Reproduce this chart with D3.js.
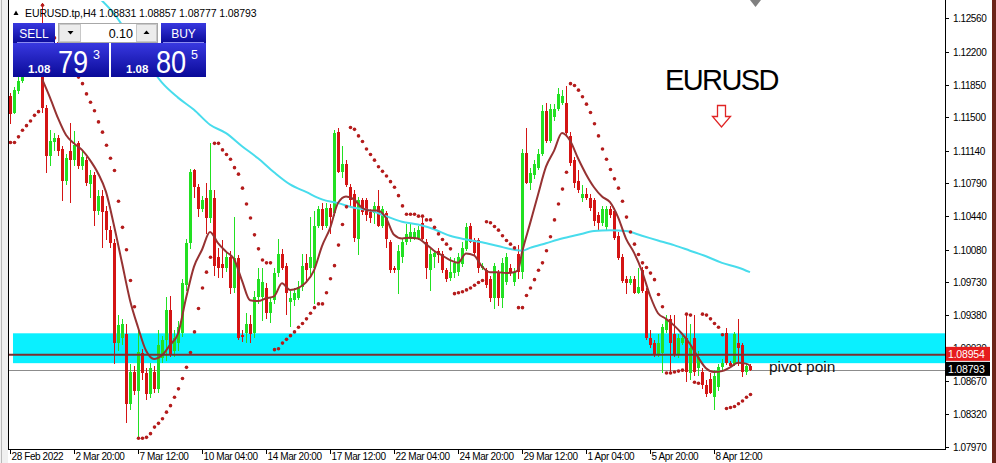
<!DOCTYPE html>
<html><head><meta charset="utf-8">
<script src="https://cdn.jsdelivr.net/npm/d3@7"></script>
<style>html,body{margin:0;padding:0;background:#fff;overflow:hidden}</style>
</head><body>
<svg id="chart" width="996" height="463"></svg>
<script>
// ---------------- DATA (EURUSD.tp, H4) ----------------
const symbol = "EURUSD.tp,H4";
const timeLabels = ["28 Feb 2022","2 Mar 20:00","7 Mar 12:00","10 Mar 04:00","14 Mar 20:00","17 Mar 12:00","22 Mar 04:00","24 Mar 20:00","29 Mar 12:00","1 Apr 04:00","5 Apr 20:00","8 Apr 12:00"];
const timeLabelBars = [0,16,32,48,64,80,96,112,128,144,160,176];
const priceTicks = [1.12560,1.12200,1.11850,1.11500,1.11140,1.10790,1.10440,1.10080,1.09730,1.09380,1.09030,1.08670,1.08320,1.07970];

const openP = [
1.1173,1.1155,1.1178,1.1189,1.1204,1.1219,1.1213,1.1230,1.1243,1.1160,
1.1109,1.1123,1.1128,1.1116,1.1082,1.1114,1.1104,1.1122,1.1098,1.1104,
1.1079,1.1088,1.1050,1.1066,1.1050,1.1029,1.1015,1.0908,1.0914,1.0918,
1.0843,1.0877,1.0857,1.0897,1.0876,1.0854,1.0877,1.0859,1.0892,1.0911,
1.0943,1.0900,1.0908,1.0919,1.0970,1.1015,1.1093,1.1075,1.1052,1.1063,
1.1042,1.1064,1.1000,1.0993,1.0988,1.1000,1.0967,1.0999,1.0917,1.0919,
1.0929,1.0919,1.0957,1.0957,1.0967,1.0940,1.0954,1.0983,1.1004,1.0991,
1.0952,1.0954,1.0956,1.0968,1.0994,1.0989,1.0989,1.1034,1.1052,1.1034,
1.1053,1.1047,1.1134,1.1091,1.1100,1.1075,1.1068,1.1020,1.1061,1.1061,
1.1048,1.1047,1.1055,1.1034,1.1047,1.1016,1.0988,1.0986,1.1000,1.1016,
1.1020,1.1020,1.1021,1.1037,1.1016,1.0986,1.1000,1.1007,1.1004,1.0986,
1.0978,1.0983,1.0984,1.0993,1.1009,1.1034,1.1018,1.1018,1.0988,1.0986,
1.0977,1.0956,1.0983,1.0956,1.0973,1.0989,1.0973,1.1004,1.0984,1.1112,
1.1080,1.1088,1.1096,1.1111,1.1157,1.1125,1.1150,1.1159,1.1165,1.1165,
1.1130,1.1104,1.1082,1.1064,1.1068,1.1064,1.1061,1.1045,1.1037,1.1032,
1.1052,1.1050,1.1023,1.1000,1.0977,1.0972,1.0977,1.0962,1.0986,1.0964,
1.0914,1.0908,1.0895,1.0897,1.0922,1.0934,1.0918,1.0895,1.0908,1.0914,
1.0876,1.0914,1.0881,1.0877,1.0863,1.0870,1.0850,1.0861,1.0882,1.0919,
1.0887,1.0886,1.0908,1.0906,1.0877,1.08831];
const highP = [
1.1176,1.1182,1.1193,1.1209,1.1224,1.1225,1.1234,1.1247,1.1272,1.1163,
1.1136,1.1133,1.1131,1.1119,1.1111,1.1144,1.1135,1.1125,1.1114,1.1107,
1.1093,1.1091,1.1072,1.1072,1.1055,1.1034,1.1020,1.0938,1.0934,1.0929,
1.0886,1.0883,1.0925,1.0902,1.0881,1.0887,1.0883,1.0922,1.0916,1.0957,
1.0959,1.0922,1.0932,1.0977,1.1020,1.1095,1.1095,1.1079,1.1066,1.1080,
1.1122,1.1072,1.1010,1.1018,1.1007,1.1007,1.1043,1.1002,1.0922,1.0940,
1.0938,1.0964,1.0989,1.0989,1.0972,1.0957,1.0988,1.1020,1.1009,1.0994,
1.0964,1.0967,1.0975,1.1004,1.1004,1.1043,1.1050,1.1055,1.1058,1.1058,
1.1057,1.1136,1.1138,1.1119,1.1104,1.1078,1.1072,1.1065,1.1064,1.1064,
1.1052,1.1059,1.1072,1.1055,1.1050,1.1018,1.0991,1.1013,1.1020,1.1036,
1.1036,1.1031,1.1034,1.1042,1.1020,1.1009,1.1007,1.1010,1.1007,1.0989,
1.1000,1.0999,1.1005,1.1016,1.1037,1.1037,1.1021,1.1021,1.0994,1.0989,
1.0980,1.0994,1.0986,1.0999,1.1005,1.0993,1.0988,1.1013,1.1116,1.1138,
1.1096,1.1104,1.1116,1.1163,1.1165,1.1164,1.1164,1.1181,1.1179,1.1184,
1.1134,1.1107,1.1093,1.1077,1.1074,1.1068,1.1064,1.1048,1.1055,1.1055,
1.1055,1.1053,1.1027,1.1003,1.0980,1.0980,1.0980,1.0988,1.0990,1.0967,
1.0922,1.0911,1.0918,1.0929,1.0938,1.0938,1.0938,1.0918,1.0916,1.0938,
1.0929,1.0938,1.0900,1.0881,1.0868,1.0876,1.0879,1.0886,1.0891,1.0924,
1.0889,1.0920,1.0934,1.0908,1.0887,1.08857];
const lowP = [
1.1143,1.1153,1.1175,1.1187,1.1200,1.1209,1.1210,1.1228,1.1155,1.1090,
1.1098,1.1114,1.1109,1.1060,1.1077,1.1058,1.1098,1.1095,1.1093,1.1076,
1.1064,1.1034,1.1045,1.1010,1.1018,1.1010,1.0886,1.0900,1.0906,1.0822,
1.0836,1.0852,1.0807,1.0868,1.0847,1.0849,1.0855,1.0855,1.0887,1.0889,
1.0893,1.0893,1.0900,1.0915,1.0964,1.1009,1.1063,1.1043,1.1048,1.1025,
1.1037,1.0980,1.0978,1.0978,1.0984,1.0961,1.0962,1.0911,1.0909,1.0908,
1.0908,1.0914,1.0950,1.0932,1.0934,1.0930,1.0950,1.0979,1.0986,1.0938,
1.0925,1.0948,1.0954,1.0964,1.0972,1.0978,1.0950,1.1031,1.1029,1.1031,
1.1025,1.1044,1.1090,1.1085,1.1075,1.1055,1.1016,1.1002,1.1045,1.1039,
1.1037,1.1036,1.1032,1.1031,1.1010,1.0983,1.0983,1.0961,1.0994,1.1013,
1.1016,1.1018,1.1018,1.1018,1.0977,1.0964,1.0989,1.0994,1.0983,1.0973,
1.0975,1.0978,1.0980,1.0990,1.1007,1.1015,1.1002,1.0983,1.0986,1.0967,
1.0952,1.0945,1.0948,1.0946,1.0970,1.0980,1.0969,1.0977,1.0977,1.1079,
1.1072,1.1084,1.1093,1.1109,1.1122,1.1122,1.1146,1.1157,1.1163,1.1130,
1.1098,1.1074,1.1069,1.1059,1.1061,1.1050,1.1034,1.1029,1.1034,1.1029,
1.1042,1.1018,1.0997,1.0972,1.0961,1.0970,1.0961,1.0961,1.0962,1.0911,
1.0903,1.0893,1.0893,1.0876,1.0919,1.0877,1.0893,1.0892,1.0906,1.0866,
1.0868,1.0873,1.0873,1.0859,1.0850,1.0854,1.0836,1.0857,1.0879,1.0885,
1.0881,1.0883,1.0884,1.0872,1.0874,1.08777];
const closeP = [
1.1154,1.1179,1.1189,1.1204,1.1219,1.1213,1.1230,1.1243,1.1160,1.1109,
1.1125,1.1128,1.1114,1.1082,1.1106,1.1104,1.1120,1.1098,1.1107,1.1080,
1.1088,1.1050,1.1066,1.1048,1.1029,1.1015,1.0908,1.0927,1.0929,1.0843,
1.0877,1.0857,1.0898,1.0876,1.0854,1.0881,1.0859,1.0906,1.0911,1.0943,
1.0895,1.0914,1.0925,1.0972,1.1015,1.1091,1.1075,1.1052,1.1061,1.1042,
1.1072,1.0991,1.0989,1.0989,1.1000,1.0967,1.0999,1.0914,1.0915,1.0929,
1.0918,1.0957,1.0977,1.0973,1.0940,1.0952,1.0983,1.1004,1.0989,1.0962,
1.0956,1.0962,1.0968,1.0991,1.0986,1.1000,1.1034,1.1052,1.1034,1.1053,
1.1043,1.1133,1.1091,1.1100,1.1077,1.1061,1.1021,1.1061,1.1048,1.1045,
1.1042,1.1055,1.1034,1.1052,1.1020,1.0986,1.0986,1.1007,1.1016,1.1025,
1.1027,1.1027,1.1029,1.1020,1.0988,1.1004,1.1005,1.1002,1.0986,1.0977,
1.0984,1.0994,1.1000,1.1010,1.1032,1.1016,1.1005,1.0988,1.0991,1.0970,
1.0956,1.0991,1.0956,1.0994,1.1000,1.0984,1.0984,1.0984,1.1112,1.1080,
1.1090,1.1100,1.1111,1.1157,1.1125,1.1159,1.1159,1.1175,1.1173,1.1133,
1.1101,1.1080,1.1072,1.1068,1.1064,1.1053,1.1039,1.1037,1.1052,1.1052,
1.1045,1.1021,1.0999,1.0975,1.0972,1.0977,1.0962,1.0968,1.0964,1.0914,
1.0906,1.0895,1.0908,1.0925,1.0934,1.0908,1.0895,1.0914,1.0913,1.0877,
1.0903,1.0877,1.0893,1.0863,1.0854,1.0855,1.0873,1.0882,1.0887,1.0887,
1.0884,1.0918,1.0903,1.0877,1.0884,1.08793];

// Parabolic SAR, one value per bar
const sarP = [
1.1123,1.1123,1.1129,1.1136,1.1141,1.1146,1.1152,1.1156,1.1270,1.1247,
1.1242,1.1235,1.1229,1.1223,1.1215,1.1208,1.1200,1.1193,1.1186,1.1175,
1.1166,1.1157,1.1145,1.1134,1.1120,1.1106,1.1093,1.1060,1.1032,1.1008,
1.0975,1.0947,1.0806,1.0806,1.0807,1.0811,1.0818,1.0822,1.0827,1.0834,
1.0841,1.0850,1.0859,1.0870,1.0882,1.0898,1.0920,1.0945,1.0967,1.0984,
1.1000,1.1122,1.1122,1.1115,1.1110,1.1105,1.1096,1.1089,1.1074,1.1057,
1.1042,1.1024,1.1009,1.0997,1.0994,1.0994,1.0901,1.0902,1.0908,1.0912,
1.0916,1.0920,1.0925,1.0929,1.0934,1.0940,1.0946,1.0950,1.0950,1.0962,
1.0977,1.0991,1.1013,1.1035,1.1054,1.1139,1.1137,1.1130,1.1124,1.1116,
1.1110,1.1104,1.1097,1.1092,1.1087,1.1081,1.1075,1.1066,1.1055,1.1046,
1.1046,1.1046,1.1044,1.1044,1.1040,1.1040,1.1032,1.1025,1.1019,1.1014,
1.1009,1.0961,1.0962,1.0963,1.0965,1.0967,1.0970,1.0973,1.0975,1.1038,
1.1037,1.1033,1.1029,1.1023,1.1018,1.1014,1.1010,1.0946,1.0946,1.0959,
1.0967,1.0976,1.0986,1.0994,1.1007,1.1022,1.1040,1.1057,1.1073,1.1091,
1.1186,1.1184,1.1179,1.1172,1.1164,1.1155,1.1143,1.1130,1.1116,1.1105,
1.1094,1.1084,1.1074,1.1060,1.1043,1.1027,1.1014,1.1003,1.0994,1.0989,
1.0983,1.0976,1.0960,1.0947,1.0876,1.0876,1.0877,1.0878,1.0879,1.0939,
1.0938,1.0866,1.0865,1.0939,1.0938,1.0934,1.0929,1.0925,1.0917,1.0838,
1.0839,1.0840,1.0843,1.0846,1.0850,1.0853];

// Fast moving average (brown)
const maFastBars = [8,10,12,14,16,18,20,22,24,26,28,30,32,34,36,38,40,42,44,46,48,50,52,54,56,58,60,62,64,66,68,70,72,74,76,78,80,82,84,86,88,90,92,94,96,98,100,102,104,106,108,110,112,114,116,118,120,122,124,126,127,128,130,132,134,136,138,140,142,144,146,148,150,152,154,156,158,160,162,164,166,168,170,172,174,176,178,180,182,184,185];
const maFastVals = [1.1191,1.1171,1.1149,1.1131,1.1122,1.1115,1.1104,1.1090,1.1070,1.1034,
1.0994,1.0954,1.0925,1.0900,1.0891,1.0895,1.0906,1.0918,1.0956,1.0990,
1.1008,1.1027,1.1015,1.1006,1.0998,1.0975,1.0954,1.0953,1.0956,1.0958,
1.0972,1.0965,1.0967,1.0973,1.0986,1.1012,1.1031,1.1058,1.1065,1.1062,
1.1053,1.1050,1.1050,1.1042,1.1024,1.1020,1.1021,1.1020,1.1014,1.1007,
1.1002,1.0997,1.0994,1.1004,1.1002,1.0990,1.0984,1.0984,1.0983,1.0984,
1.0986,1.1005,1.1036,1.1067,1.1097,1.1114,1.1133,1.1125,1.1106,1.1089,
1.1075,1.1065,1.1059,1.1043,1.1020,1.1005,1.0985,1.0959,1.0940,1.0934,
1.0927,1.0918,1.0907,1.0893,1.0881,1.0877,1.0878,1.0882,1.0887,1.0886,1.0884];

// Slow moving average (cyan)
const maSlowBars = [22,26,30,34,38,42,46,50,54,58,62,66,70,74,78,82,86,90,94,98,102,106,110,114,118,122,126,128,130,134,138,142,146,150,154,158,162,166,170,174,178,182,185];
const maSlowVals = [1.1279,1.1261,1.1236,1.1211,1.1187,1.1171,1.1158,1.1142,1.1133,1.1119,
1.1106,1.1091,1.1078,1.1070,1.1062,1.1058,1.1053,1.1050,1.1044,1.1038,
1.1035,1.1030,1.1023,1.1019,1.1016,1.1012,1.1008,1.1007,1.1010,1.1015,
1.1020,1.1024,1.1028,1.1029,1.1028,1.1023,1.1018,1.1013,1.1007,1.1001,
1.0994,1.0989,1.0984];

// Objects on chart
const zoneLow = 1.08865, zoneHigh = 1.09185, zoneStartBar = 0.75;
const pivotPrice = 1.08954;
const bidPrice = 1.08793;
const sellBig = "79", sellSup = "3", buyBig = "80", buySup = "5", pricePrefix = "1.08";
const lotSize = "0.10";
const ohlcText = "1.08831 1.08857 1.08777 1.08793";

// ---------------- DRAW ----------------
const W = 996, H = 463;
const plot = {left: 8, right: 945, top: 1, bottom: 449};
const x = d3.scaleLinear().domain([0, 185]).range([10, 750]);
const y = d3.scaleLinear().domain([1.07970, 1.12560]).range([446.7, 18.3]);
const FONT = "'Liberation Sans', Arial, sans-serif";

const svg = d3.select("#chart");
const defs = svg.append("defs");
defs.append("clipPath").attr("id", "clip").append("rect")
  .attr("x", plot.left + 1).attr("y", plot.top).attr("width", plot.right - plot.left - 1).attr("height", plot.bottom - plot.top);
const grad = defs.append("linearGradient").attr("id", "blueGrad").attr("x1", 0).attr("y1", 0).attr("x2", 0).attr("y2", 1);
grad.append("stop").attr("offset", "0%").attr("stop-color", "#3838e0");
grad.append("stop").attr("offset", "100%").attr("stop-color", "#0a0a98");

svg.append("rect").attr("width", W).attr("height", H).attr("fill", "#fff");
svg.append("rect").attr("x", 0).attr("y", 0).attr("width", plot.left).attr("height", H).attr("fill", "#f0f0f0");
svg.append("line").attr("x1", 1.5).attr("x2", 1.5).attr("y1", 0).attr("y2", H).attr("stroke", "#b8b8b8");
svg.append("rect").attr("x", 992).attr("y", 0).attr("width", 4).attr("height", H).attr("fill", "#6b2418");

const g = svg.append("g").attr("clip-path", "url(#clip)");

g.append("rect")
  .attr("x", x(zoneStartBar)).attr("width", plot.right - x(zoneStartBar))
  .attr("y", y(zoneHigh)).attr("height", y(zoneLow) - y(zoneHigh))
  .attr("fill", "#0af0ff");

g.append("line").attr("x1", plot.left).attr("x2", plot.right)
  .attr("y1", Math.round(y(bidPrice)) + 0.5).attr("y2", Math.round(y(bidPrice)) + 0.5)
  .attr("stroke", "#8c8c8c").attr("stroke-width", 1);

const bars = d3.range(openP.length).map(i => ({i, o: openP[i], h: highP[i], l: lowP[i], c: closeP[i]}));
const up = "#22e022", dn = "#d41414";
const cg = g.append("g").attr("shape-rendering", "crispEdges");
cg.selectAll("line.wick").data(bars).join("line").attr("class", "wick")
  .attr("x1", d => Math.round(x(d.i)) + 0.5).attr("x2", d => Math.round(x(d.i)) + 0.5)
  .attr("y1", d => y(d.h)).attr("y2", d => y(d.l))
  .attr("stroke", d => d.c >= d.o ? up : dn).attr("stroke-width", 1);
cg.selectAll("rect.body").data(bars).join("rect").attr("class", "body")
  .attr("x", d => Math.round(x(d.i)) - 1).attr("width", 3)
  .attr("y", d => y(Math.max(d.o, d.c)))
  .attr("height", d => Math.max(1, Math.abs(y(d.o) - y(d.c))))
  .attr("fill", d => d.c >= d.o ? up : dn);

const slowData = maSlowBars.map((b, k) => [b, maSlowVals[k]]);
const fastData = maFastBars.map((b, k) => [b, maFastVals[k]]);
const lineGen = d3.line().x(d => x(d[0])).y(d => y(d[1])).curve(d3.curveMonotoneX);
g.append("path").attr("d", lineGen(slowData)).attr("fill", "none").attr("stroke", "#48dcec").attr("stroke-width", 2);
g.append("path").attr("d", lineGen(fastData)).attr("fill", "none").attr("stroke", "#963232").attr("stroke-width", 2);

g.selectAll("circle.sar").data(sarP.map((v, i) => [i, v])).join("circle").attr("class", "sar")
  .attr("cx", d => Math.round(x(d[0])) + 0.5).attr("cy", d => y(d[1])).attr("r", 1.8)
  .attr("fill", "#b41c1c");

g.append("line").attr("x1", plot.left).attr("x2", plot.right)
  .attr("y1", y(pivotPrice)).attr("y2", y(pivotPrice))
  .attr("stroke", "#7a3030").attr("stroke-width", 2);

g.append("text").attr("x", 665).attr("y", 90).text("EURUSD")
  .attr("font-family", FONT).attr("font-size", 29).attr("letter-spacing", -1.6).attr("fill", "#000");
g.append("path")
  .attr("d", "M717.5,105.5 H725.5 V116.5 H730.5 L721.5,127 L712.5,116.5 H717.5 Z")
  .attr("fill", "#fff").attr("stroke", "#e02424").attr("stroke-width", 1.3);
g.append("text").attr("x", 769).attr("y", y(bidPrice) + 2).text("pivot poin")
  .attr("font-family", FONT).attr("font-size", 15.5).attr("fill", "#111");

const frame = svg.append("g").attr("stroke", "#000").attr("stroke-width", 1).attr("shape-rendering", "crispEdges");
frame.append("line").attr("x1", plot.left + 0.5).attr("x2", plot.left + 0.5).attr("y1", 0).attr("y2", plot.bottom + 0.5);
frame.append("line").attr("x1", plot.right + 0.5).attr("x2", plot.right + 0.5).attr("y1", 0).attr("y2", plot.bottom + 0.5);
frame.append("line").attr("x1", plot.left).attr("x2", plot.right + 1).attr("y1", plot.bottom + 0.5).attr("y2", plot.bottom + 0.5);

const pa = svg.append("g");
priceTicks.forEach(v => {
  const yy = Math.round(y(v)) + 0.5;
  pa.append("line").attr("x1", plot.right).attr("x2", plot.right + 4).attr("y1", yy).attr("y2", yy)
    .attr("stroke", "#000").attr("shape-rendering", "crispEdges");
  pa.append("text").attr("x", 953).attr("y", yy + 3.5).text(d3.format(".5f")(v))
    .attr("font-family", FONT).attr("font-size", 10).attr("letter-spacing", -0.4).attr("fill", "#000");
});
function priceTag(v, fill) {
  const yy = y(v) - 1;
  pa.append("rect").attr("x", 946).attr("y", yy - 7).attr("width", 44).attr("height", 14).attr("fill", fill);
  pa.append("text").attr("x", 948).attr("y", yy + 4).text(d3.format(".5f")(v))
    .attr("font-family", FONT).attr("font-size", 10.5).attr("letter-spacing", -0.2).attr("fill", "#fff");
}
priceTag(pivotPrice, "#e61c1c");
priceTag(bidPrice, "#000");

const ta = svg.append("g");
timeLabelBars.forEach((b, k) => {
  const xx = Math.round(x(b)) + 0.5;
  ta.append("line").attr("x1", xx).attr("x2", xx).attr("y1", plot.bottom).attr("y2", plot.bottom + 5)
    .attr("stroke", "#000").attr("shape-rendering", "crispEdges");
  ta.append("text").attr("x", xx + 1).attr("y", 460).text(timeLabels[k])
    .attr("font-family", FONT).attr("font-size", 10).attr("letter-spacing", -0.4).attr("fill", "#000");
});

svg.append("path").attr("d", "M750,0 L761,0 L755.5,7 Z").attr("fill", "#808080");

svg.append("path").attr("d", "M13.5,15 L18.5,15 L16,10.5 Z").attr("fill", "#000");
svg.append("text").attr("x", 25).attr("y", 16.5).text(symbol + " " + ohlcText)
  .attr("font-family", FONT).attr("font-size", 10.5).attr("letter-spacing", -0.1).attr("fill", "#000");

const p = svg.append("g");
p.append("rect").attr("x", 13).attr("y", 23).attr("width", 42).attr("height", 20).attr("fill", "url(#blueGrad)");
p.append("rect").attr("x", 161).attr("y", 23).attr("width", 45).attr("height", 20).attr("fill", "url(#blueGrad)");
p.append("rect").attr("x", 13).attr("y", 43).attr("width", 96).attr("height", 34).attr("fill", "url(#blueGrad)");
p.append("rect").attr("x", 111).attr("y", 43).attr("width", 95).attr("height", 34).attr("fill", "url(#blueGrad)");
p.append("line").attr("x1", 17).attr("x2", 54).attr("y1", 42.5).attr("y2", 42.5).attr("stroke", "#8a8af0");
p.append("line").attr("x1", 163).attr("x2", 204).attr("y1", 42.5).attr("y2", 42.5).attr("stroke", "#8a8af0");
p.append("rect").attr("x", 58.5).attr("y", 23.5).attr("width", 99).attr("height", 19).attr("fill", "#fff").attr("stroke", "#a8a8a8");
p.append("rect").attr("x", 59.5).attr("y", 24.5).attr("width", 21).attr("height", 17).attr("fill", "#ececec").attr("stroke", "#c8c8c8");
p.append("rect").attr("x", 136.5).attr("y", 24.5).attr("width", 20).attr("height", 17).attr("fill", "#ececec").attr("stroke", "#c8c8c8");
p.append("path").attr("d", "M67.5,31 L73.5,31 L70.5,34.5 Z").attr("fill", "#000");
p.append("path").attr("d", "M143.5,34 L149.5,34 L146.5,30.5 Z").attr("fill", "#000");
p.append("text").attr("x", 133).attr("y", 37.5).attr("text-anchor", "end").text(lotSize)
  .attr("font-family", FONT).attr("font-size", 12.5).attr("fill", "#000");
p.append("text").attr("x", 34).attr("y", 37.5).attr("text-anchor", "middle").text("SELL")
  .attr("font-family", FONT).attr("font-size", 12).attr("fill", "#fff");
p.append("text").attr("x", 183.5).attr("y", 37.5).attr("text-anchor", "middle").text("BUY")
  .attr("font-family", FONT).attr("font-size", 12).attr("fill", "#fff");
function bigPrice(x0, big, sup) {
  p.append("text").attr("x", x0).attr("y", 72.5).text(pricePrefix)
    .attr("font-family", FONT).attr("font-size", 11.5).attr("font-weight", "bold").attr("fill", "#fff");
  p.append("text").attr("transform", `translate(${x0 + 30},72.5) scale(0.85,1)`).text(big)
    .attr("font-family", FONT).attr("font-size", 32).attr("fill", "#fff");
  p.append("text").attr("x", x0 + 65).attr("y", 58.5).text(sup)
    .attr("font-family", FONT).attr("font-size", 12.5).attr("fill", "#fff");
}
bigPrice(28, sellBig, sellSup);
bigPrice(126, buyBig, buySup);
</script>
</body></html>
